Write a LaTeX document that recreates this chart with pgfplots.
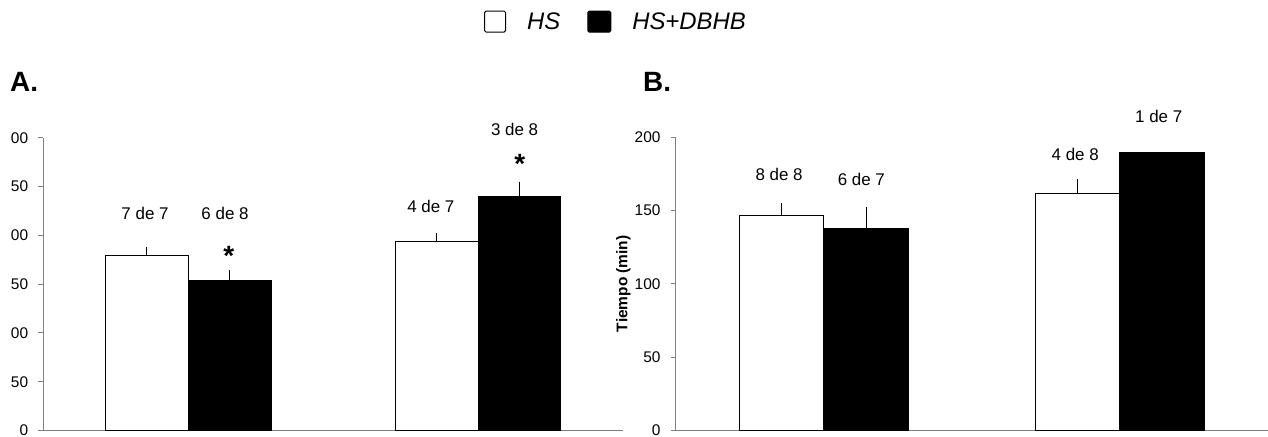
\documentclass[border=0pt]{standalone}
\usepackage{pgfplots}
\usepackage{pgfplotstable}
\pgfplotsset{compat=1.18}
\usepackage{fontspec}
\setmainfont{Liberation Sans}

\pgfplotstableread{
x hs hserr db dberr
0 179 6.5 154 7.5
1 194 5 240 12
}\tabA
\pgfplotstableread{
x hs hserr db dberr
0 146.5 6.5 138 12
1 161.5 8 189.5 0
}\tabB

\definecolor{axisgray}{RGB}{128,128,128}

\pgfplotsset{
 mybars/.style={
  scale only axis,
  ybar=0pt, bar width=0.286,
  xmin=-0.5, xmax=1.5,
  ymin=0,
  axis x line*=bottom, axis y line*=left,
  xtick=\empty,
  tick align=outside, major tick length=5bp,
  axis line style={draw=axisgray, line width=1bp},
  every tick/.style={draw=axisgray, line width=1bp},
  tick label style={font=\fontsize{15.5}{18}\selectfont},
  yticklabel style={inner sep=0pt, xshift=-10bp},
  /pgf/number format/assume math mode=true,
  clip=false,
  error bars/y dir=plus, error bars/y explicit,
  error bars/error mark options={mark size=3bp, line width=0.8bp, black},
  error bars/error bar style={line width=0.8bp, black},
 },
 hsbar/.style={draw=black, fill=white, line width=1bp, bar shift=-0.143,
   legend image code/.code={\draw[draw=black, fill=white, line width=1bp, rounded corners=1.5bp] (0bp,-10.5bp) rectangle (21bp,10.5bp);}},
 dbbar/.style={draw=black, fill=black, line width=1bp, bar shift=0.143,
   legend image code/.code={\draw[draw=black, fill=black, line width=1bp, rounded corners=1.5bp] (0bp,-10.5bp) rectangle (23bp,10.5bp);}},
}
\tikzset{
 lab/.style={inner sep=0pt, font=\fontsize{17}{20}\selectfont},
 star/.style={inner sep=0pt, anchor=north, font=\fontsize{28}{30}\selectfont\bfseries},
}

\begin{document}
\begin{tikzpicture}
\begin{axis}[mybars, at={(43.3bp,6.5bp)}, anchor=south west,
  width=579.7bp, height=292.7bp, ymax=300,
  ytick={0,50,100,150,200,250,300},
  yticklabels={0,50,00,50,00,50,00},
  legend columns=2,
  legend style={draw=none, fill=none, at={(0.760,1.397)}, anchor=west,
    inner sep=0pt, font=\fontsize{24}{28}\selectfont\itshape,
    /tikz/every odd column/.append style={column sep=19bp},
    /tikz/every even column/.append style={column sep=25bp}},
]
\addplot[hsbar] table[x=x, y=hs, y error=hserr] {\tabA};
\addplot[dbbar] table[x=x, y=db, y error=dberr] {\tabA};
\legend{HS, HS+DBHB}
\node[lab] at (axis cs:-0.149,222.4) {7 de 7};
\node[lab] at (axis cs:0.127,222.4) {6 de 8};
\node[star] at (axis cs:0.140,188.9) {*};
\node[lab] at (axis cs:0.837,229.3) {4 de 7};
\node[lab] at (axis cs:1.126,308.5) {3 de 8};
\node[star] at (axis cs:1.144,282.9) {*};
\end{axis}

\begin{axis}[mybars, at={(675.7bp,6.5bp)}, anchor=south west,
  width=592.3bp, height=293.4bp, ymax=200,
  ytick={0,50,100,150,200},
  ylabel={Tiempo (min)},
  ylabel style={font=\fontsize{15.5}{18}\selectfont\bfseries, at={(axis description cs:-0.0885,0.5)}, anchor=center},
]
\addplot[hsbar] table[x=x, y=hs, y error=hserr] {\tabB};
\addplot[dbbar, error bars/y dir=none] table[x=x, y=db] {\tabB};
\addplot[dbbar, forget plot, restrict x to domain=-0.1:0.1] table[x=x, y=db, y error=dberr] {\tabB};
\node[lab] at (axis cs:-0.151,174.5) {8 de 8};
\node[lab] at (axis cs:0.127,170.9) {6 de 7};
\node[lab] at (axis cs:0.849,188.1) {4 de 8};
\node[lab] at (axis cs:1.131,213.8) {1 de 7};
\end{axis}

\node[anchor=base west, inner sep=0pt, font=\fontsize{28}{30}\selectfont\bfseries] at (10bp,345bp) {A.};
\node[anchor=base west, inner sep=0pt, font=\fontsize{28}{30}\selectfont\bfseries] at (643bp,345bp) {B.};

\pgfresetboundingbox
\useasboundingbox (0bp,0bp) rectangle (1268bp,437bp);
\end{tikzpicture}
\end{document}
